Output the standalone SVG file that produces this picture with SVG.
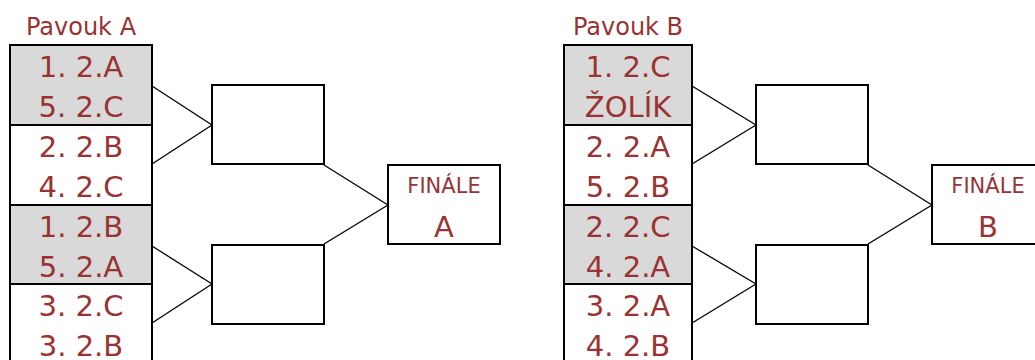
<svg xmlns="http://www.w3.org/2000/svg" width="1035" height="360" viewBox="0 0 1035 360">
<style>
text{font-family:"DejaVu Sans","Noto Sans",sans-serif;fill:#993333;text-anchor:middle}
.t{font-size:24px}
.e{font-size:29px}
.f{font-size:21px}
.g{fill:#d9d9d9;stroke:#000;stroke-width:2}
.w{fill:#fff;stroke:#000;stroke-width:2}
.c line{stroke:#000;stroke-width:1.3}
</style>
<rect width="1035" height="360" fill="#fff"/>
<g id="titleA"><text class="t" x="81" y="35">Pavouk A</text></g>
<g id="titleB"><text class="t" x="628" y="35">Pavouk B</text></g>
<g class="c" id="connectors">
<line x1="152" y1="86" x2="212" y2="125"/><line x1="152" y1="164" x2="212" y2="125"/>
<line x1="152" y1="246" x2="212" y2="284"/><line x1="152" y1="323" x2="212" y2="284"/>
<line x1="324" y1="165" x2="388" y2="205"/><line x1="324" y1="244" x2="388" y2="205"/>
<line x1="692" y1="86" x2="756" y2="125"/><line x1="692" y1="164" x2="756" y2="125"/>
<line x1="692" y1="246" x2="756" y2="284"/><line x1="692" y1="323" x2="756" y2="284"/>
<line x1="868" y1="165" x2="932" y2="205"/><line x1="868" y1="244" x2="932" y2="205"/>
</g>
<g id="a1"><rect class="g" x="10" y="45" width="142" height="80"/><text class="e" x="81" y="77">1. 2.A</text><text class="e" x="81" y="117">5. 2.C</text></g>
<g id="a2"><rect class="w" x="10" y="125" width="142" height="80"/><text class="e" x="81" y="157">2. 2.B</text><text class="e" x="81" y="197">4. 2.C</text></g>
<g id="a3"><rect class="g" x="10" y="205" width="142" height="79"/><text class="e" x="81" y="237">1. 2.B</text><text class="e" x="81" y="277">5. 2.A</text></g>
<g id="a4"><rect class="w" x="10" y="284" width="142" height="80"/><text class="e" x="81" y="316">3. 2.C</text><text class="e" x="81" y="356">3. 2.B</text></g>
<g id="ra1"><rect class="w" x="212" y="85" width="112" height="79"/></g>
<g id="ra2"><rect class="w" x="212" y="245" width="112" height="79"/></g>
<g id="finA"><rect class="w" x="388" y="165" width="112" height="79"/><text class="f" x="444" y="193">FINÁLE</text><text class="e" x="444" y="237">A</text></g>
<g id="b1"><rect class="g" x="564" y="45" width="128" height="80"/><text class="e" x="628" y="77">1. 2.C</text><text class="e" x="628" y="117">ŽOLÍK</text></g>
<g id="b2"><rect class="w" x="564" y="125" width="128" height="80"/><text class="e" x="628" y="157">2. 2.A</text><text class="e" x="628" y="197">5. 2.B</text></g>
<g id="b3"><rect class="g" x="564" y="205" width="128" height="79"/><text class="e" x="628" y="237">2. 2.C</text><text class="e" x="628" y="277">4. 2.A</text></g>
<g id="b4"><rect class="w" x="564" y="284" width="128" height="80"/><text class="e" x="628" y="316">3. 2.A</text><text class="e" x="628" y="356">4. 2.B</text></g>
<g id="rb1"><rect class="w" x="756" y="85" width="112" height="79"/></g>
<g id="rb2"><rect class="w" x="756" y="245" width="112" height="79"/></g>
<g id="finB"><rect class="w" x="932" y="165" width="112" height="79"/><text class="f" x="988" y="193">FINÁLE</text><text class="e" x="988" y="237">B</text></g>
</svg>
